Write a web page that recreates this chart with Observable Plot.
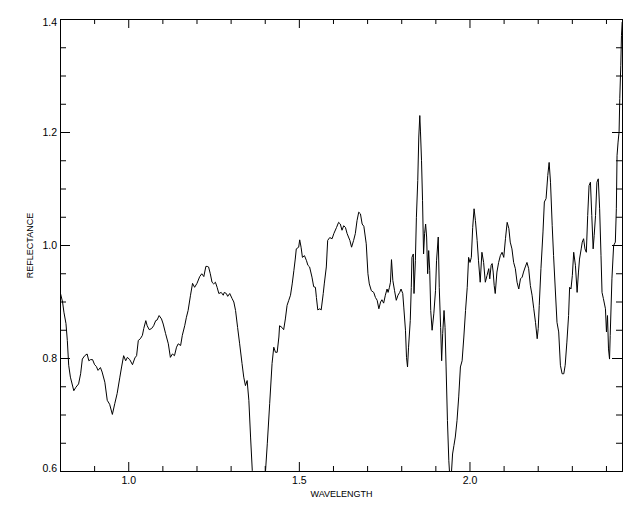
<!DOCTYPE html>
<html>
<head>
<meta charset="utf-8">
<script src="https://cdn.jsdelivr.net/npm/d3@7"></script>
<script src="https://cdn.jsdelivr.net/npm/@observablehq/plot@0.6"></script>
<style>
  html, body { margin: 0; padding: 0; background: #fff; }
  #chart svg { display: block; }
</style>
</head>
<body>
<div id="chart"></div>
<script>
const wavelength = [0.800,0.806,0.810,0.816,0.820,0.824,0.829,0.839,0.845,0.853,
0.859,0.864,0.871,0.878,0.883,0.888,0.894,0.900,0.905,0.910,
0.917,0.922,0.930,0.937,0.944,0.952,0.959,0.966,0.974,0.979,
0.985,0.991,0.996,1.003,1.011,1.018,1.023,1.028,1.034,1.040,
1.044,1.050,1.054,1.060,1.067,1.073,1.079,1.083,1.089,1.096,
1.101,1.108,1.116,1.122,1.128,1.134,1.140,1.145,1.152,1.157,
1.164,1.169,1.174,1.181,1.187,1.193,1.200,1.208,1.214,1.220,
1.226,1.230,1.234,1.239,1.244,1.249,1.254,1.259,1.264,1.271,
1.277,1.280,1.286,1.290,1.296,1.303,1.308,1.313,1.319,1.325,
1.332,1.337,1.342,1.347,1.352,1.357,1.362,1.380,1.401,1.406,
1.413,1.420,1.425,1.430,1.435,1.440,1.442,1.449,1.454,1.459,
1.464,1.469,1.474,1.479,1.484,1.488,1.491,1.498,1.501,1.505,
1.509,1.515,1.521,1.525,1.530,1.537,1.542,1.547,1.550,1.554,
1.560,1.564,1.570,1.573,1.579,1.583,1.589,1.596,1.601,1.609,
1.615,1.620,1.625,1.630,1.635,1.640,1.648,1.653,1.659,1.664,
1.669,1.674,1.679,1.684,1.689,1.696,1.701,1.705,1.711,1.718,
1.723,1.728,1.733,1.738,1.742,1.747,1.752,1.757,1.760,1.764,
1.767,1.770,1.774,1.779,1.784,1.789,1.794,1.798,1.803,1.806,
1.811,1.814,1.817,1.820,1.825,1.828,1.830,1.834,1.836,1.840,
1.843,1.847,1.850,1.853,1.855,1.858,1.861,1.864,1.867,1.870,
1.873,1.876,1.879,1.882,1.885,1.889,1.894,1.899,1.902,1.907,
1.910,1.914,1.917,1.920,1.924,1.927,1.930,1.934,1.938,1.943,
1.949,1.953,1.957,1.962,1.967,1.972,1.977,1.982,1.987,1.992,
1.996,2.000,2.004,2.008,2.012,2.016,2.021,2.025,2.030,2.035,
2.040,2.045,2.050,2.055,2.058,2.062,2.065,2.068,2.071,2.074,
2.079,2.084,2.089,2.094,2.099,2.104,2.109,2.114,2.118,2.123,
2.128,2.133,2.138,2.143,2.148,2.153,2.157,2.162,2.167,2.172,
2.177,2.182,2.187,2.192,2.197,2.200,2.203,2.208,2.214,2.218,
2.223,2.228,2.232,2.236,2.241,2.245,2.250,2.255,2.260,2.265,
2.270,2.275,2.279,2.284,2.289,2.292,2.296,2.300,2.304,2.309,
2.314,2.318,2.321,2.326,2.329,2.333,2.337,2.341,2.345,2.349,
2.353,2.357,2.361,2.364,2.368,2.372,2.376,2.380,2.384,2.387,
2.391,2.397,2.400,2.403,2.406,2.409,2.411,2.416,2.421,2.426,
2.429,2.431,2.434,2.437,2.439,2.442,2.444,2.446];

const reflectance = [0.915,0.900,0.882,0.862,0.832,0.788,0.767,0.743,0.749,0.755,
0.773,0.799,0.805,0.808,0.796,0.798,0.798,0.789,0.786,0.779,
0.784,0.776,0.758,0.726,0.719,0.701,0.720,0.738,0.767,0.785,
0.805,0.796,0.802,0.798,0.789,0.801,0.805,0.832,0.835,0.841,
0.853,0.867,0.858,0.851,0.853,0.858,0.867,0.868,0.876,0.870,
0.861,0.844,0.826,0.802,0.808,0.805,0.820,0.826,0.823,0.841,
0.858,0.873,0.885,0.912,0.933,0.926,0.933,0.945,0.950,0.945,
0.963,0.963,0.962,0.950,0.935,0.932,0.935,0.926,0.915,0.917,
0.912,0.917,0.915,0.910,0.915,0.906,0.900,0.885,0.855,0.826,
0.791,0.767,0.752,0.761,0.726,0.661,0.602,0.450,0.602,0.649,
0.720,0.791,0.820,0.811,0.811,0.838,0.858,0.855,0.851,0.870,
0.894,0.903,0.912,0.932,0.956,0.976,0.994,0.997,1.010,0.997,
0.979,0.982,0.973,0.965,0.962,0.944,0.927,0.926,0.908,0.886,
0.888,0.886,0.915,0.932,0.962,1.009,1.014,1.012,1.021,1.032,
1.041,1.038,1.027,1.035,1.032,1.021,1.009,0.997,1.009,1.021,
1.044,1.059,1.056,1.038,1.034,1.003,0.950,0.932,0.920,0.917,
0.908,0.903,0.888,0.900,0.904,0.898,0.912,0.923,0.917,0.926,
0.935,0.975,0.938,0.920,0.903,0.912,0.917,0.923,0.915,0.891,
0.850,0.802,0.785,0.820,0.867,0.926,0.979,0.985,0.915,0.973,
1.050,1.115,1.192,1.230,1.201,1.150,1.080,0.985,1.021,1.038,
1.015,0.950,0.991,0.956,0.885,0.850,0.879,0.920,0.973,1.015,
0.926,0.855,0.796,0.844,0.885,0.855,0.785,0.690,0.619,0.570,
0.631,0.646,0.661,0.690,0.732,0.785,0.796,0.838,0.885,0.926,
0.979,0.970,0.979,1.032,1.065,1.044,1.009,0.973,0.935,0.988,
0.970,0.935,0.947,0.959,0.941,0.965,0.968,0.953,0.929,0.915,
0.953,0.970,0.982,0.988,0.979,1.012,1.041,1.030,1.006,0.994,
0.970,0.959,0.935,0.923,0.941,0.944,0.953,0.962,0.970,0.959,
0.929,0.912,0.888,0.864,0.835,0.853,0.894,0.959,1.024,1.077,
1.083,1.124,1.147,1.112,1.035,0.982,0.923,0.864,0.847,0.788,
0.773,0.773,0.788,0.829,0.876,0.926,0.923,0.947,0.988,0.965,
0.917,0.953,0.976,0.994,1.006,1.012,0.994,0.988,1.053,1.106,
1.112,1.053,0.994,1.018,1.053,1.112,1.118,1.065,0.982,0.917,
0.906,0.888,0.847,0.876,0.817,0.799,0.841,0.941,1.000,1.006,
1.065,1.159,1.183,1.201,1.260,1.319,1.372,1.395];

const xMajorTicks = [1.0, 1.5, 2.0];
const xMinorTicks = [0.9, 1.1, 1.2, 1.3, 1.4, 1.6, 1.7, 1.8, 1.9, 2.1, 2.2, 2.3, 2.4];
const yMajorTicks = [0.6, 0.8, 1.0, 1.2, 1.4];
const yMinorTicks = [0.65, 0.7, 0.75, 0.85, 0.9, 0.95, 1.05, 1.1, 1.15, 1.25, 1.3, 1.35];
const xTitle = "WAVELENGTH";
const yTitle = "REFLECTANCE";

const spectrum = wavelength.map((w, i) => ({wavelength: w, reflectance: reflectance[i]}));

const W = 640, H = 512;
const mL = 60, mR = 18, mT = 19, mB = 41;
const pw = W - mL - mR, ph = H - mT - mB;
const font = "'Liberation Sans', Arial, Helvetica, sans-serif";

const yMin = yMajorTicks[0], yMax = yMajorTicks[yMajorTicks.length - 1];
const yInner = yMajorTicks.filter(d => d !== yMin && d !== yMax);

const chart = Plot.plot({
  width: W,
  height: H,
  marginLeft: mL,
  marginRight: mR,
  marginTop: mT,
  marginBottom: mB,
  style: {fontFamily: font, background: "#fff", color: "#000"},
  x: {domain: [0.8, 2.447], axis: null},
  y: {domain: [yMin, yMax], axis: null},
  marks: [
    Plot.line(spectrum, {x: "wavelength", y: "reflectance", stroke: "#000", strokeWidth: 1, clip: true}),
    // bottom ticks (inward)
    Plot.tickX(xMajorTicks, {x: d => d, insetTop: ph - 9, stroke: "#000"}),
    Plot.tickX(xMinorTicks, {x: d => d, insetTop: ph - 5, stroke: "#000"}),
    // top ticks (inward)
    Plot.tickX(xMajorTicks, {x: d => d, insetBottom: ph - 9, stroke: "#000"}),
    Plot.tickX(xMinorTicks, {x: d => d, insetBottom: ph - 5, stroke: "#000"}),
    // left ticks
    Plot.tickY(yMajorTicks, {y: d => d, insetRight: pw - 10, stroke: "#000"}),
    Plot.tickY(yMinorTicks, {y: d => d, insetRight: pw - 6, stroke: "#000"}),
    // right ticks
    Plot.tickY(yMajorTicks, {y: d => d, insetLeft: pw - 10, stroke: "#000"}),
    Plot.tickY(yMinorTicks, {y: d => d, insetLeft: pw - 6, stroke: "#000"}),
    Plot.frame({stroke: "#000"}),
    // tick labels
    Plot.text(xMajorTicks, {x: d => d, frameAnchor: "bottom", dy: 12.5, text: d => d.toFixed(1), fontSize: 10.5, fill: "#000"}),
    Plot.text(yInner, {y: d => d, frameAnchor: "left", dx: -3.5, textAnchor: "end", text: d => d.toFixed(1), fontSize: 10.5, fill: "#000"}),
    Plot.text([yMax], {y: d => d, frameAnchor: "left", dx: -3.5, dy: 3.5, textAnchor: "end", text: d => d.toFixed(1), fontSize: 10.5, fill: "#000"}),
    Plot.text([yMin], {y: d => d, frameAnchor: "left", dx: -3.5, dy: -2.5, textAnchor: "end", text: d => d.toFixed(1), fontSize: 10.5, fill: "#000"}),
    // axis titles
    Plot.text([xTitle], {frameAnchor: "bottom", dy: 25, text: d => d, fontSize: 9, fill: "#000"}),
    Plot.text([yTitle], {frameAnchor: "left", dx: -30, rotate: -90, textAnchor: "middle", text: d => d, fontSize: 9, fill: "#000"})
  ]
});
document.getElementById("chart").appendChild(chart);
</script>
</body>
</html>
